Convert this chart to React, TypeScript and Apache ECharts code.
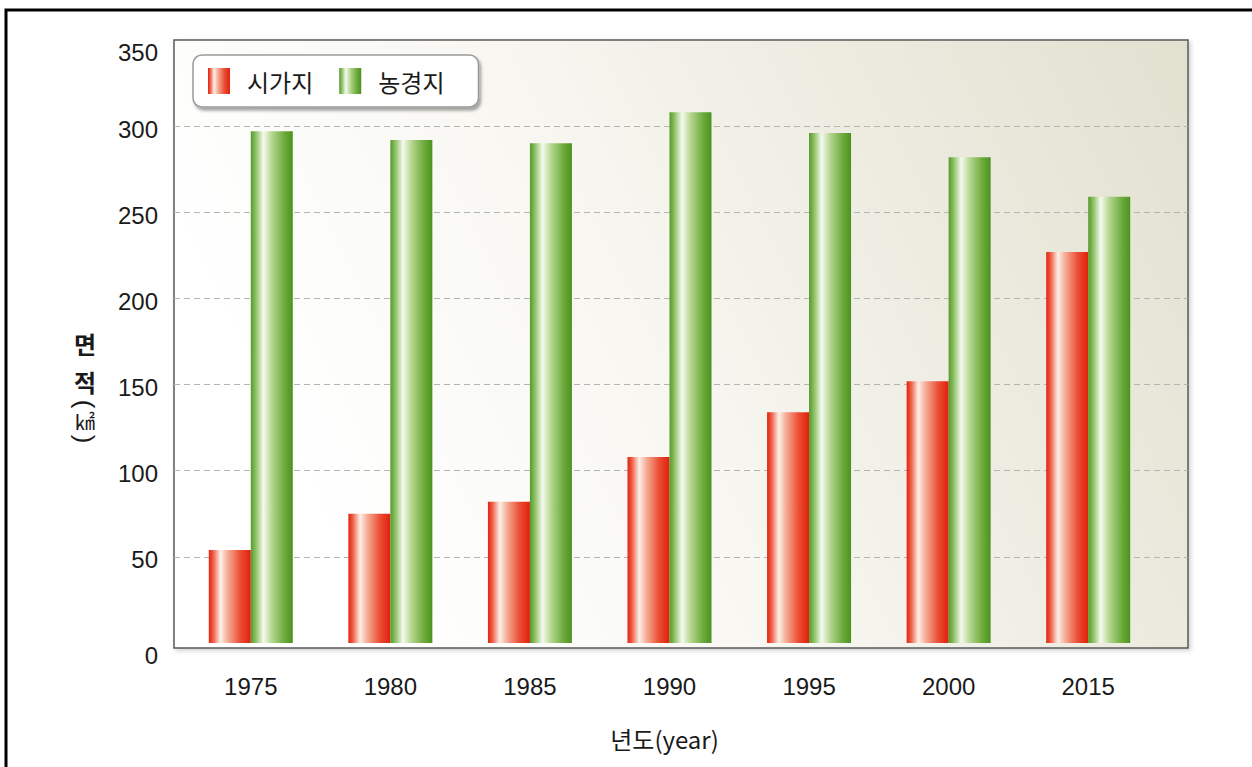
import React, { useEffect, useRef } from "react";
import * as echarts from "echarts";

// 연도별 토지 이용 면적 (㎢)
const years = ["1975", "1980", "1985", "1990", "1995", "2000", "2015"];
const urbanArea = [54, 75, 82, 108, 134, 152, 227]; // 시가지
const farmland = [297, 292, 290, 308, 296, 282, 259]; // 농경지
const seriesNames = ["시가지", "농경지"];
const yMin = 0;
const yMax = 350;
const yStep = 50;

const NUM_FONT = "'Liberation Sans', Arial, sans-serif";
const KR_FONT = "'Noto Sans CJK KR', 'Noto Sans', sans-serif";

const redFill = new echarts.graphic.LinearGradient(0, 0, 1, 0, [
  { offset: 0, color: "#e2230f" },
  { offset: 0.1, color: "#ee5a43" },
  { offset: 0.28, color: "#fdf0e8" },
  { offset: 0.45, color: "#f5ad96" },
  { offset: 0.75, color: "#ea4e34" },
  { offset: 1, color: "#e11f0c" },
]);

const greenFill = new echarts.graphic.LinearGradient(0, 0, 1, 0, [
  { offset: 0, color: "#55992a" },
  { offset: 0.12, color: "#8dc165" },
  { offset: 0.3, color: "#f5faef" },
  { offset: 0.5, color: "#b6d790" },
  { offset: 0.8, color: "#6cab3c" },
  { offset: 1, color: "#4c921f" },
]);

const axisText = { fontFamily: NUM_FONT, fontSize: 24, color: "#1a1a1a" };

export default function App() {
  const ref = useRef<HTMLDivElement>(null);

  useEffect(() => {
    if (!ref.current) return;
    const chart = echarts.init(ref.current, null, { renderer: "svg" });

    const option: echarts.EChartsOption = {
      animation: false,
      backgroundColor: "#ffffff",
      grid: [
        // bars
        { left: 181, right: 94, top: 40, bottom: 124 },
        // full-width panel for the dashed grid lines
        { left: 174, right: 64, top: 40, bottom: 124 },
      ],
      legend: {
        left: 193,
        top: 55,
        orient: "horizontal",
        itemWidth: 22,
        itemHeight: 26,
        itemGap: 26,
        padding: [13, 34, 13, 15],
        backgroundColor: "#ffffff",
        borderColor: "#9a9a9a",
        borderWidth: 1.5,
        borderRadius: 9,
        shadowBlur: 3,
        shadowOffsetX: 2,
        shadowOffsetY: 3,
        shadowColor: "rgba(0,0,0,0.35)",
        icon: "rect",
        textStyle: {
          fontFamily: KR_FONT,
          fontSize: 24,
          color: "#1a1a1a",
          padding: [0, 0, 0, 12],
        },
        data: seriesNames,
      },
      xAxis: [
        {
          type: "category",
          gridIndex: 0,
          data: years,
          axisLine: { show: false },
          axisTick: { show: false },
          axisLabel: { margin: 31, ...axisText },
          name: "년도(year)",
          nameLocation: "middle",
          nameGap: 83,
          nameTextStyle: {
            fontFamily: KR_FONT,
            fontSize: 24,
            color: "#1a1a1a",
            padding: [0, 10, 0, 0],
          },
        },
        {
          type: "value",
          gridIndex: 1,
          show: false,
        },
      ],
      yAxis: [
        {
          type: "value",
          gridIndex: 0,
          min: yMin,
          max: yMax,
          interval: yStep,
          axisLine: { show: false },
          axisTick: { show: false },
          splitLine: { show: false },
          axisLabel: {
            margin: 23,
            ...axisText,
            formatter: (v: number) =>
              v === yMin || v === yMax ? `{edge|${v}}` : `{mid|${v}}`,
            rich: {
              edge: { ...axisText, padding: [24, 0, 0, 0] },
              mid: { ...axisText, padding: [6, 0, 0, 0] },
            },
          },
        },
        {
          type: "value",
          gridIndex: 1,
          min: yMin,
          max: yMax,
          interval: yStep,
          axisLine: { show: false },
          axisTick: { show: false },
          axisLabel: { show: false },
          splitLine: {
            show: true,
            showMinLine: false,
            showMaxLine: false,
            lineStyle: { color: "#b4b4b0", type: [6, 4], width: 1 },
          },
        },
      ],
      series: [
        {
          name: seriesNames[0],
          type: "bar",
          xAxisIndex: 0,
          yAxisIndex: 0,
          data: urbanArea,
          barWidth: 42,
          barGap: "0%",
          itemStyle: { color: redFill },
        },
        {
          name: seriesNames[1],
          type: "bar",
          xAxisIndex: 0,
          yAxisIndex: 0,
          data: farmland,
          barWidth: 42,
          barGap: "0%",
          itemStyle: { color: greenFill },
        },
      ],
      graphic: [
        // outer frame
        {
          type: "rect",
          z: -20,
          shape: { x: 6, y: 10, width: 1400, height: 900 },
          style: { fill: "none", stroke: "#000000", lineWidth: 3 },
        },
        // plot panel
        {
          type: "rect",
          z: -10,
          shape: { x: 174, y: 40, width: 1014, height: 608 },
          style: {
            fill: new echarts.graphic.LinearGradient(0, 0.3, 1, 0, [
              { offset: 0, color: "#ffffff" },
              { offset: 0.35, color: "#f8f7f2" },
              { offset: 1, color: "#e2e0cf" },
            ]),
            stroke: "#5a5a5a",
            lineWidth: 1.5,
            shadowBlur: 4,
            shadowOffsetX: 2,
            shadowOffsetY: 2,
            shadowColor: "rgba(0,0,0,0.18)",
          },
        },
        // vertical axis title
        {
          type: "text",
          x: 85,
          y: 343,
          style: {
            text: "면",
            fontFamily: KR_FONT,
            fontSize: 24,
            fontWeight: "bold",
            fill: "#1a1a1a",
            align: "center",
            verticalAlign: "middle",
          },
        },
        {
          type: "text",
          x: 85,
          y: 381,
          style: {
            text: "적",
            fontFamily: KR_FONT,
            fontSize: 24,
            fontWeight: "bold",
            fill: "#1a1a1a",
            align: "center",
            verticalAlign: "middle",
          },
        },
        {
          type: "text",
          x: 85,
          y: 404,
          rotation: -Math.PI / 2,
          style: {
            text: "(",
            fontFamily: NUM_FONT,
            fontSize: 26,
            fill: "#1a1a1a",
            align: "center",
            verticalAlign: "middle",
          },
        },
        {
          type: "text",
          x: 85,
          y: 421,
          style: {
            text: "㎢",
            fontFamily: KR_FONT,
            fontSize: 20,
            fill: "#1a1a1a",
            align: "center",
            verticalAlign: "middle",
          },
        },
        {
          type: "text",
          x: 85,
          y: 439,
          rotation: -Math.PI / 2,
          style: {
            text: ")",
            fontFamily: NUM_FONT,
            fontSize: 26,
            fill: "#1a1a1a",
            align: "center",
            verticalAlign: "middle",
          },
        },
      ],
    };

    chart.setOption(option);
    return () => chart.dispose();
  }, []);

  return (
    <div
      ref={ref}
      style={{ position: "absolute", left: 0, top: 0, width: 1252, height: 767 }}
    />
  );
}
